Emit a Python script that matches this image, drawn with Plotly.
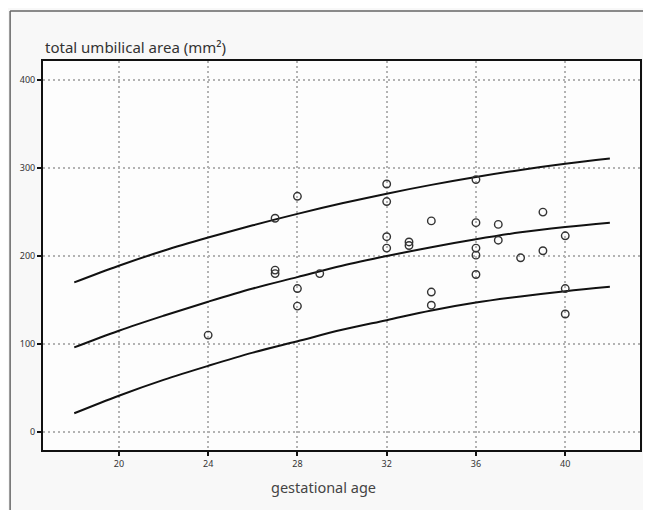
import plotly.graph_objects as go

# Reference centile curves
curve_weeks = [18, 20, 22, 24, 26, 28, 30, 32, 34, 36, 38, 40, 42]
upper_curve = [170, 189, 206, 221, 235, 248, 260, 271, 281, 290, 298, 305, 311]
middle_curve = [96, 115, 132, 148, 163, 176, 189, 200, 210, 219, 227, 233, 238]
lower_curve = [21, 41, 59, 75, 90, 103, 116, 127, 138, 147, 154, 160, 165]

# Observations
obs_weeks = [24, 27, 27, 27, 28, 28, 28, 29,
             32, 32, 32, 32, 33, 33, 34, 34, 34,
             36, 36, 36, 36, 36, 37, 37, 38, 39, 39, 40, 40, 40]
obs_area = [110, 243, 184, 180, 268, 163, 143, 180,
            282, 262, 222, 209, 216, 212, 240, 159, 144,
            287, 238, 209, 201, 179, 236, 218, 198, 250, 206, 223, 163, 134]

x_ticks = [20, 24, 28, 32, 36, 40]
y_ticks = [0, 100, 200, 300, 400]

fig = go.Figure()
for ys in (upper_curve, middle_curve, lower_curve):
    fig.add_trace(go.Scatter(x=curve_weeks, y=ys, mode="lines",
                             line=dict(color="#111111", width=2, shape="spline"),
                             showlegend=False, hoverinfo="skip"))
fig.add_trace(go.Scatter(x=obs_weeks, y=obs_area, mode="markers",
                         marker=dict(symbol="circle-open", size=7.5, color="#333333",
                                     line=dict(width=1.4, color="#333333")),
                         showlegend=False))

axis_common = dict(showline=True, linecolor="#111111", linewidth=2, mirror=True,
                   ticks="outside", ticklen=4, tickwidth=2, tickcolor="#111111",
                   showgrid=True, gridcolor="#b3b3b3", gridwidth=1.5, griddash="2px,3px",
                   zeroline=False,
                   tickfont=dict(family="Noto Sans", size=9, color="#333333"))

fig.update_xaxes(range=[16.6, 43.35], tickmode="array", tickvals=x_ticks,
                 ticktext=[str(v) for v in x_ticks], **axis_common)
fig.update_yaxes(range=[-20.8, 422], tickmode="array", tickvals=y_ticks,
                 ticktext=[str(v) for v in y_ticks], **axis_common)

W, H = 643, 502
L, R, T, B = 35, 9, 53, 60
pw, ph = W - L - R, H - T - B

fig.update_layout(
    width=W, height=H,
    margin=dict(l=L, r=R, t=T, b=B),
    paper_bgcolor="#f8f8f8", plot_bgcolor="#fdfdfd",
    font=dict(family="Noto Sans", color="#333333"),
    annotations=[
        dict(text="total umbilical area (mm²)", xref="paper", yref="paper",
             x=0, y=1, xanchor="left", yanchor="bottom", yshift=2, showarrow=False,
             font=dict(family="Noto Sans", size=15, color="#333333")),
        dict(text="gestational age", xref="paper", yref="paper",
             x=(316 - L) / pw, y=0, xanchor="center", yanchor="top", yshift=-25,
             showarrow=False, font=dict(family="Noto Sans", size=14.5, color="#444444")),
    ],
    shapes=[
        dict(type="line", xref="paper", yref="paper",
             x0=(2 - L) / pw, x1=(W - L) / pw,
             y0=(H - B - 3) / ph, y1=(H - B - 3) / ph,
             line=dict(color="#666666", width=1.5)),
        dict(type="line", xref="paper", yref="paper",
             x0=(2 - L) / pw, x1=(2 - L) / pw,
             y0=(H - B - 3) / ph, y1=-B / ph,
             line=dict(color="#666666", width=1.5)),
    ],
)

fig.write_html("out.html")
